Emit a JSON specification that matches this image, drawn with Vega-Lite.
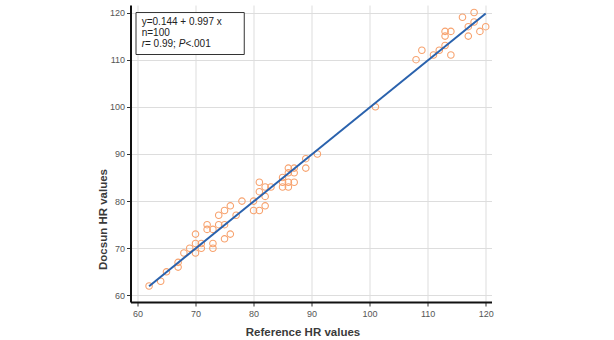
{
  "$schema": "https://vega.github.io/schema/vega-lite/v6.json",
  "width": 361,
  "height": 297,
  "autosize": {"type": "none"},
  "padding": {"left": 130.5, "top": 5, "right": 122.5, "bottom": 38},
  "background": "white",
  "config": {
    "view": {"stroke": null},
    "font": "Liberation Sans",
    "axis": {
      "domainColor": "#111111",
      "domainWidth": 2,
      "tickColor": "#333333",
      "tickSize": 4,
      "tickWidth": 1,
      "labelFont": "Liberation Sans",
      "labelFontSize": 9,
      "labelColor": "#555555",
      "titleFont": "Liberation Sans",
      "titleFontSize": 11.5,
      "titleFontWeight": "bold",
      "titleColor": "#3a3a3a",
      "gridColor": "#dddddd",
      "gridWidth": 1
    }
  },
  "datasets": {
    "pts": [
      {"ref": 62, "doc": 62}, {"ref": 64, "doc": 63}, {"ref": 65, "doc": 65}, {"ref": 67, "doc": 66},
      {"ref": 67, "doc": 67}, {"ref": 68, "doc": 69}, {"ref": 69, "doc": 70}, {"ref": 70, "doc": 71},
      {"ref": 70, "doc": 69}, {"ref": 70, "doc": 73}, {"ref": 71, "doc": 70}, {"ref": 71, "doc": 71},
      {"ref": 73, "doc": 71}, {"ref": 73, "doc": 70}, {"ref": 72, "doc": 75}, {"ref": 72, "doc": 74},
      {"ref": 73, "doc": 74}, {"ref": 74, "doc": 75}, {"ref": 75, "doc": 75}, {"ref": 75, "doc": 72},
      {"ref": 76, "doc": 73}, {"ref": 74, "doc": 77}, {"ref": 75, "doc": 78}, {"ref": 76, "doc": 79},
      {"ref": 77, "doc": 77}, {"ref": 78, "doc": 80}, {"ref": 80, "doc": 80}, {"ref": 80, "doc": 78},
      {"ref": 81, "doc": 78}, {"ref": 81, "doc": 84}, {"ref": 81, "doc": 82}, {"ref": 82, "doc": 83},
      {"ref": 82, "doc": 81}, {"ref": 82, "doc": 79}, {"ref": 83, "doc": 83}, {"ref": 85, "doc": 85},
      {"ref": 85, "doc": 84}, {"ref": 85, "doc": 83}, {"ref": 86, "doc": 87}, {"ref": 86, "doc": 86},
      {"ref": 86, "doc": 84}, {"ref": 86, "doc": 83}, {"ref": 87, "doc": 87}, {"ref": 87, "doc": 86},
      {"ref": 87, "doc": 84}, {"ref": 89, "doc": 89}, {"ref": 89, "doc": 87}, {"ref": 91, "doc": 90},
      {"ref": 101, "doc": 100}, {"ref": 108, "doc": 110}, {"ref": 109, "doc": 112}, {"ref": 111, "doc": 111},
      {"ref": 112, "doc": 112}, {"ref": 113, "doc": 113}, {"ref": 113, "doc": 115}, {"ref": 113, "doc": 116},
      {"ref": 114, "doc": 116}, {"ref": 114, "doc": 111}, {"ref": 116, "doc": 119}, {"ref": 117, "doc": 115},
      {"ref": 117, "doc": 117}, {"ref": 118, "doc": 120}, {"ref": 118, "doc": 118}, {"ref": 119, "doc": 116},
      {"ref": 120, "doc": 117}
    ],
    "fit": [
      {"ref": 62, "doc": 61.958},
      {"ref": 120, "doc": 119.784}
    ]
  },
  "layer": [
    {
      "data": {"name": "pts"},
      "mark": {"type": "point", "shape": "circle", "filled": false, "color": "#f7a26e", "strokeWidth": 1.1, "size": 42, "opacity": 1},
      "encoding": {
        "x": {
          "field": "ref", "type": "quantitative",
          "scale": {"domain": [58.8, 121], "nice": false, "zero": false},
          "axis": {
            "title": "Reference HR values",
            "values": [60, 65, 70, 75, 80, 85, 90, 95, 100, 105, 110, 115, 120],
            "labelExpr": "datum.value % 10 === 0 ? datum.label : ''",
            "gridOpacity": {"condition": {"test": "datum.value % 10 === 0", "value": 1}, "value": 0},
            "labelPadding": 3,
            "titleX": 172,
            "titleY": 30,
            "titleBaseline": "middle"
          }
        },
        "y": {
          "field": "doc", "type": "quantitative",
          "scale": {"domain": [58.6, 121.6], "nice": false, "zero": false},
          "axis": {
            "title": "Docsun HR values",
            "values": [60, 65, 70, 75, 80, 85, 90, 95, 100, 105, 110, 115, 120],
            "labelExpr": "datum.value % 10 === 0 ? datum.label : ''",
            "gridOpacity": {"condition": {"test": "datum.value % 10 === 0", "value": 1}, "value": 0},
            "labelPadding": 2,
            "titleX": -27,
            "titleY": 214,
            "titleBaseline": "middle"
          }
        }
      }
    },
    {
      "data": {"name": "fit"},
      "mark": {"type": "line", "color": "#2a62ad", "strokeWidth": 2},
      "encoding": {
        "x": {"field": "ref", "type": "quantitative"},
        "y": {"field": "doc", "type": "quantitative"}
      }
    },
    {
      "data": {"values": [{}]},
      "mark": {"type": "rect", "fill": "white", "stroke": "#333333", "strokeWidth": 1},
      "encoding": {
        "x": {"datum": 59.75, "type": "quantitative"},
        "x2": {"datum": 78.4},
        "y": {"datum": 120, "type": "quantitative"},
        "y2": {"datum": 111.1}
      }
    },
    {
      "data": {"values": [{}]},
      "mark": {"type": "text", "text": "y=0.144 + 0.997 x", "align": "left", "baseline": "middle", "fontSize": 10, "color": "#222222"},
      "encoding": {
        "x": {"datum": 60.73, "type": "quantitative"},
        "y": {"datum": 117.9, "type": "quantitative"}
      }
    },
    {
      "data": {"values": [{}]},
      "mark": {"type": "text", "text": "n=100", "align": "left", "baseline": "middle", "fontSize": 10, "color": "#222222"},
      "encoding": {
        "x": {"datum": 60.73, "type": "quantitative"},
        "y": {"datum": 115.65, "type": "quantitative"}
      }
    },
    {
      "data": {"values": [{}]},
      "mark": {"type": "text", "text": "r", "fontStyle": "italic", "align": "left", "baseline": "middle", "fontSize": 10, "color": "#222222"},
      "encoding": {
        "x": {"datum": 60.73, "type": "quantitative"},
        "y": {"datum": 113.35, "type": "quantitative"}
      }
    },
    {
      "data": {"values": [{}]},
      "mark": {"type": "text", "text": "= 0.99; ", "align": "left", "baseline": "middle", "fontSize": 10, "color": "#222222", "dx": 3.3},
      "encoding": {
        "x": {"datum": 60.73, "type": "quantitative"},
        "y": {"datum": 113.35, "type": "quantitative"}
      }
    },
    {
      "data": {"values": [{}]},
      "mark": {"type": "text", "text": "P", "fontStyle": "italic", "align": "left", "baseline": "middle", "fontSize": 10, "color": "#222222", "dx": 37},
      "encoding": {
        "x": {"datum": 60.73, "type": "quantitative"},
        "y": {"datum": 113.35, "type": "quantitative"}
      }
    },
    {
      "data": {"values": [{}]},
      "mark": {"type": "text", "text": "<.001", "align": "left", "baseline": "middle", "fontSize": 10, "color": "#222222", "dx": 43.7},
      "encoding": {
        "x": {"datum": 60.73, "type": "quantitative"},
        "y": {"datum": 113.35, "type": "quantitative"}
      }
    }
  ]
}
